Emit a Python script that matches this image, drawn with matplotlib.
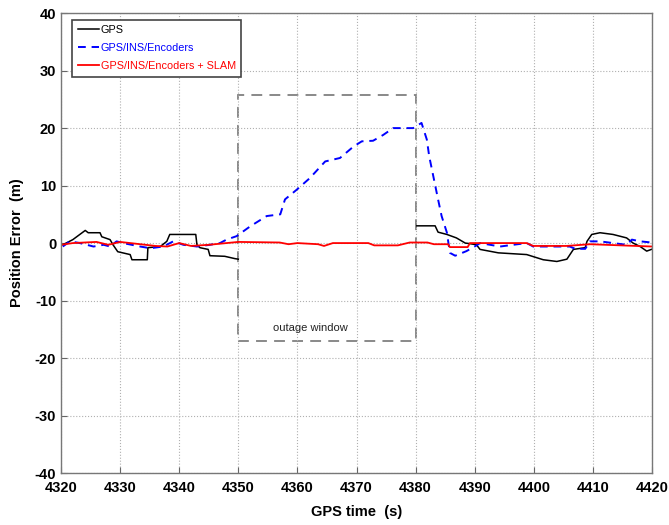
import matplotlib
matplotlib.use('Agg')
import matplotlib.pyplot as plt
import matplotlib.patches as mpatches
import numpy as np

plt.rcParams['font.family'] = ['Liberation Sans', 'DejaVu Sans']
plt.rcParams['axes.unicode_minus'] = False

# GPS only (no data during outage 4350-4380)
gps_t1 = [4320.3, 4322.0, 4324.1, 4324.6, 4326.6, 4326.9, 4328.3, 4328.8, 4329.6, 4331.7,
          4332.0, 4334.6, 4334.7, 4336.8, 4337.9, 4338.4, 4342.8, 4343.0, 4343.5, 4344.9,
          4345.2, 4347.7, 4349.4, 4350.0]
gps_e1 = [-0.3, 0.6, 2.2, 1.8, 1.8, 1.1, 0.6, -0.3, -1.5, -2.0,
          -2.9, -2.9, -0.8, -0.6, 0.3, 1.5, 1.5, -0.3, -0.8, -1.1,
          -2.2, -2.3, -2.7, -2.8]
gps_t2 = [4380.2, 4383.3, 4383.8, 4385.3, 4386.9, 4388.4, 4389.2, 4390.3, 4390.9, 4394.0,
          4398.8, 4401.6, 4403.9, 4405.6, 4406.7, 4408.7, 4409.0, 4409.8, 4411.2, 4413.4,
          4415.7, 4416.8, 4418.0, 4419.1, 4419.9]
gps_e2 = [3.0, 3.0, 1.9, 1.5, 0.9, 0.0, -0.1, -0.3, -1.1, -1.7,
          -2.0, -2.9, -3.2, -2.8, -1.1, -0.8, 0.3, 1.5, 1.8, 1.5,
          0.9, 0.0, -0.6, -1.4, -1.1]

# GPS/INS/Encoders
ins_t = [4320.3, 4321.5, 4323.2, 4325.5, 4327.2, 4328.3, 4329.4, 4330.5, 4333.4, 4335.1,
         4337.3, 4339.0, 4340.7, 4343.0, 4345.2, 4346.9, 4348.0, 4349.7, 4352.0, 4354.8,
         4357.1, 4357.9, 4359.9, 4362.1, 4364.7, 4367.2, 4369.5, 4370.9, 4372.8, 4374.5,
         4376.2, 4379.6, 4381.0, 4381.9, 4382.3, 4383.8, 4384.4, 4385.3, 4385.8, 4386.7,
         4388.6, 4390.0, 4390.9, 4394.3, 4396.5, 4398.8, 4399.9, 4403.3, 4406.1, 4407.0,
         4408.7, 4409.5, 4411.2, 4413.4, 4415.7, 4416.6, 4418.0, 4419.9]
ins_e = [-0.6, 0.3, 0.0, -0.6, -0.3, -0.6, 0.3, 0.0, -0.6, -0.9,
         -0.6, 0.3, -0.3, -0.6, -0.3, 0.0, 0.6, 1.2, 2.9, 4.7,
         5.0, 7.6, 9.3, 11.3, 14.2, 14.8, 16.8, 17.7, 17.8, 18.8,
         20.0, 20.0, 20.9, 18.0, 15.1, 7.6, 4.7, 1.8, -1.7, -2.2,
         -1.4, -0.6, 0.0, -0.6, -0.3, 0.0, -0.6, -0.6, -0.6, -1.0,
         -1.0, 0.3, 0.3, 0.0, -0.3, 0.6, 0.3, 0.1]

# GPS/INS/Encoders + SLAM
slam_t = [4320.0, 4322.0, 4326.0, 4328.0, 4330.0, 4336.0, 4338.0, 4340.0, 4342.0, 4345.0,
          4348.0, 4350.0, 4357.0, 4358.5, 4360.0, 4363.5, 4364.5, 4366.0, 4372.0, 4373.0,
          4377.0, 4379.0, 4382.0, 4383.1, 4385.5, 4385.8, 4388.8, 4389.2, 4398.8, 4399.9,
          4405.5, 4409.5, 4420.0]
slam_e = [-0.3, 0.0, 0.2, -0.3, 0.2, -0.5, -0.6, 0.0, -0.5, -0.3,
          0.0, 0.2, 0.1, -0.2, 0.0, -0.2, -0.5, 0.0, 0.0, -0.4,
          -0.4, 0.1, 0.1, -0.2, -0.2, -0.7, -0.7, 0.0, 0.0, -0.5,
          -0.5, -0.2, -0.6]

outage = [4350, 4380, -17, 25.7]

fig = plt.figure(figsize=(6.69, 5.25), dpi=100)
ax = fig.add_axes([0.0912, 0.099, 0.8834, 0.876])

ax.plot(gps_t1, gps_e1, color='black', lw=1.1, label='GPS')
ax.plot(gps_t2, gps_e2, color='black', lw=1.1)
ax.plot(ins_t, ins_e, color='blue', lw=1.4, ls=(0, (4, 3)), label='GPS/INS/Encoders')
ax.plot(slam_t, slam_e, color='red', lw=1.3, label='GPS/INS/Encoders + SLAM')

box = mpatches.Rectangle((outage[0], outage[2]), outage[1] - outage[0], outage[3] - outage[2],
                         fill=False, edgecolor='#808080', lw=1.3, ls=(0, (6, 4)))
ax.add_patch(box)
ax.text(4362.2, -14.8, 'outage window', fontsize=8, ha='center', va='center', color='#222222')

ax.set_xlim(4320, 4420)
ax.set_ylim(-40, 40)
ax.set_xticks(np.arange(4320, 4421, 10))
ax.set_yticks(np.arange(-40, 41, 10))
ax.grid(True, color='#b0b0b0', ls=':', lw=0.8)
ax.tick_params(direction='in', length=4, color='#666666', labelsize=10.5)
ax.tick_params(axis='x', pad=6)
for lab in ax.get_xticklabels() + ax.get_yticklabels():
    lab.set_fontweight('bold')
for s in ax.spines.values():
    s.set_color('#777777')
    s.set_linewidth(1.0)

ax.set_xlabel('GPS time  (s)', fontsize=10.5, fontweight='bold', labelpad=7)
ax.set_ylabel('Position Error  (m)', fontsize=10.5, fontweight='bold', labelpad=8)

leg = ax.legend(loc='upper left', fontsize=7.8, fancybox=False, framealpha=1,
                edgecolor='#444444', handlelength=2.0, handletextpad=0.15,
                borderaxespad=0.6, labelspacing=0.75, borderpad=0.5,
                bbox_to_anchor=(0.008, 1.0))
leg.get_frame().set_linewidth(1.2)
for txt, c in zip(leg.get_texts(), ['black', 'blue', 'red']):
    txt.set_color(c)

fig.savefig('out.png', dpi=100)
